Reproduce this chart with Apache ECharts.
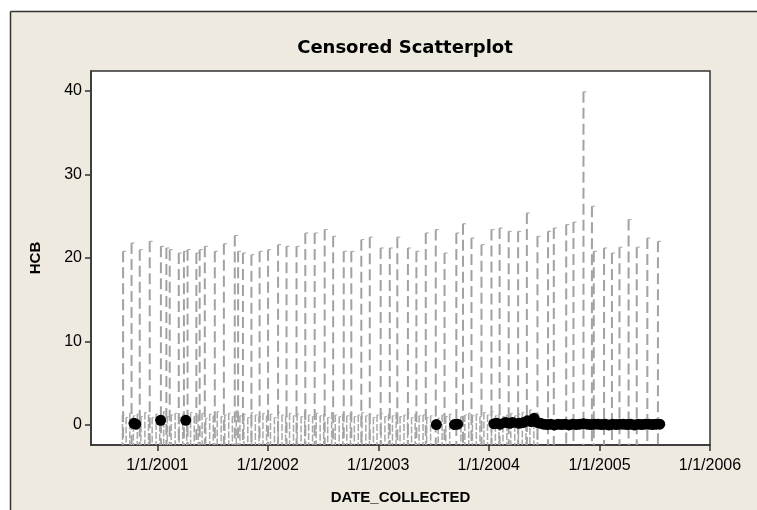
<!DOCTYPE html>
<html>
<head>
<meta charset="utf-8">
<script src="https://cdn.jsdelivr.net/npm/echarts@6/dist/echarts.min.js"></script>
<style>html,body{margin:0;padding:0;background:#fff;}#c{width:757px;height:510px;}</style>
</head>
<body>
<div id="c"></div>
<script>
// ---- data ----
const xTickDates = ['2001-01-01','2002-01-01','2003-01-01','2004-01-01','2005-01-01','2006-01-01'];
const xTickLabels = ['1/1/2001','1/1/2002','1/1/2003','1/1/2004','1/1/2005','1/1/2006'];
const yTicks = [0, 10, 20, 30, 40];

// uncensored observations (black dots)
const detectDates = ['2000-10-16','2000-10-22','2001-01-12','2001-04-05','2003-07-12','2003-09-10','2003-09-20',
  '2004-01-18','2004-01-28','2004-02-08','2004-02-25','2004-03-10','2004-03-20','2004-04-10','2004-04-25',
  '2004-05-08','2004-05-20','2004-05-30','2004-06-10','2004-06-20','2004-06-30','2004-07-12','2004-07-24',
  '2004-08-05','2004-08-17','2004-08-29','2004-09-10','2004-09-22','2004-10-04','2004-10-16','2004-10-28',
  '2004-11-09','2004-11-21','2004-12-03','2004-12-15','2004-12-27','2005-01-08','2005-01-20','2005-02-01',
  '2005-02-13','2005-02-25','2005-03-09','2005-03-21','2005-04-02','2005-04-14','2005-04-26','2005-05-08',
  '2005-05-20','2005-06-01','2005-06-13','2005-06-25','2005-07-07','2005-07-19'];
const detectValues = [0.2,0.1,0.55,0.55,0.05,0.05,0.1,
  0.15,0.2,0.1,0.3,0.2,0.3,0.2,0.3,
  0.5,0.4,0.8,0.3,0.2,0.1,0.05,0.1,
  0.0,0.1,0.05,0.1,0.0,0.1,0.05,0.1,
  0.15,0.1,0.05,0.1,0.1,0.05,0.1,0.0,
  0.1,0.05,0.1,0.1,0.05,0.1,0.0,0.1,
  0.05,0.1,0.1,0.05,0.1,0.1];

// left-censored observations with high reporting limits (long dashed lines)
const highLimitDates = ['2000-09-10','2000-10-08','2000-11-04','2000-12-07','2001-01-13','2001-01-31','2001-02-11',
  '2001-03-13','2001-03-30','2001-04-11','2001-05-10','2001-05-21','2001-06-07','2001-07-10','2001-08-09',
  '2001-09-14','2001-09-25','2001-10-11','2001-11-08','2001-12-05','2002-01-02','2002-02-04','2002-03-04',
  '2002-04-06','2002-05-05','2002-06-05','2002-07-08','2002-08-05','2002-09-09','2002-10-04','2002-11-06',
  '2002-12-04','2003-01-09','2003-02-08','2003-03-05','2003-04-09','2003-05-07','2003-06-07','2003-07-10',
  '2003-08-08','2003-09-16','2003-10-08','2003-11-05','2003-12-08','2004-01-10','2004-02-06','2004-03-07',
  '2004-04-07','2004-05-06','2004-06-10','2004-07-15','2004-08-03','2004-09-13','2004-10-07','2004-11-09',
  '2004-12-07','2004-12-13','2005-01-16','2005-02-11','2005-03-08','2005-04-07','2005-05-04','2005-06-08',
  '2005-07-13'];
const highLimitValues = [20.8,21.8,21.0,22.0,21.4,21.2,21.0,
  20.6,20.8,21.0,20.6,21.0,21.4,20.8,21.7,
  22.7,20.8,20.6,20.4,20.8,21.0,21.6,21.4,
  21.4,23.0,23.0,23.4,22.6,20.8,20.8,22.2,
  22.5,21.2,21.2,22.5,21.2,20.8,23.0,23.4,
  20.6,23.0,24.1,22.4,21.6,23.4,23.6,23.2,
  23.2,25.4,22.6,23.2,23.6,24.0,24.3,39.9,
  26.2,20.8,21.2,20.6,21.3,24.6,21.3,22.4,
  22.0];

// left-censored observations with low reporting limits (short lines near zero)
const lowLimitDates = ['2000-09-08','2000-09-20','2000-10-02','2000-10-14','2000-10-27','2000-11-08','2000-11-21',
  '2000-12-03','2000-12-15','2000-12-28','2001-01-09','2001-01-22','2001-02-03','2001-02-16','2001-03-01',
  '2001-03-14','2001-03-26','2001-04-08','2001-04-21','2001-05-03','2001-05-16','2001-05-29','2001-06-10',
  '2001-06-23','2001-07-05','2001-07-18','2001-07-31','2001-08-12','2001-08-25','2001-09-06','2001-09-19',
  '2001-10-01','2001-10-14','2001-10-27','2001-11-08','2001-11-21','2001-12-03','2001-12-16','2001-12-28',
  '2002-01-10','2002-01-23','2002-02-04','2002-02-17','2002-03-01','2002-03-14','2002-03-27','2002-04-08',
  '2002-04-21','2002-05-03','2002-05-16','2002-05-29','2002-06-10','2002-06-23','2002-07-05','2002-07-18',
  '2002-07-31','2002-08-12','2002-08-25','2002-09-06','2002-09-19','2002-10-01','2002-10-14','2002-10-27',
  '2002-11-08','2002-11-21','2002-12-03','2002-12-16','2002-12-28','2003-01-10','2003-01-23','2003-02-04',
  '2003-02-17','2003-03-01','2003-03-14','2003-03-27','2003-04-08','2003-04-21','2003-05-03','2003-05-16',
  '2003-05-29','2003-06-10','2003-06-23','2003-07-18','2003-07-31','2003-08-12','2003-08-25','2003-10-01',
  '2003-10-14','2003-10-27','2003-11-08','2003-11-21','2003-12-03','2003-12-16','2003-12-28','2004-01-10',
  '2004-01-23','2004-02-04','2004-02-17','2004-03-01','2004-03-14','2004-03-27','2004-04-08','2004-04-21',
  '2004-05-03','2004-05-16','2004-05-29','2004-06-10'];
const lowLimitValues = [1.2,0.9,1.4,1.1,1.3,1.0,1.5,
  1.2,0.9,1.3,1.1,1.6,1.0,1.2,1.4,
  0.9,1.3,1.1,1.5,1.0,1.2,1.4,0.8,
  1.3,1.1,1.6,1.0,1.2,1.4,1.0,1.7,
  1.1,1.3,0.9,1.5,1.2,1.0,1.4,1.1,
  1.3,0.9,1.5,1.2,1.0,1.4,1.1,1.3,
  1.0,1.6,1.2,1.0,1.4,1.1,1.3,0.9,
  1.5,1.2,1.0,1.3,1.1,1.4,1.0,1.2,
  1.5,1.1,1.3,0.9,1.2,1.4,1.0,1.3,
  1.1,1.5,1.0,1.2,1.4,0.9,1.3,1.1,
  1.2,0.9,1.1,0.8,1.2,1.0,1.3,1.0,
  1.2,1.4,1.1,1.3,1.0,1.5,1.2,1.6,
  1.1,1.3,1.0,1.2,1.4,1.1,1.3,1.5,
  1.2,1.8,1.4,1.2];

// ---- chart ----
const ts = s => Date.parse(s);
const X_MIN = ts('2000-05-27');
const X_MAX = ts('2006-01-01');
const Y_MIN = -2.4, Y_MAX = 42.4;
const xTickValues = xTickDates.map(ts);

function zipPairs(dates, vals) { return dates.map((d, i) => [ts(d), vals[i]]); }

function censoredRenderer(color, width, dash, stub) {
  return function (params, api) {
    const t = api.value(0), v = api.value(1);
    const top = api.coord([t, v]);
    const bot = api.coord([t, Y_MIN]);
    return {
      type: 'group',
      children: [
        { type: 'line', shape: { x1: top[0], y1: top[1], x2: bot[0], y2: bot[1] },
          style: { stroke: color, lineWidth: width, lineDash: dash } },
        { type: 'line', shape: { x1: top[0], y1: top[1], x2: top[0] + stub, y2: top[1] },
          style: { stroke: color, lineWidth: 1 } }
      ]
    };
  };
}

const chart = echarts.init(document.getElementById('c'), null, { renderer: 'canvas' });
chart.setOption({
  animation: false,
  backgroundColor: '#EEEAE0',
  textStyle: { fontFamily: 'Liberation Sans' },
  graphic: { elements: [
    { type: 'rect', shape: { x: 0, y: 0, width: 757, height: 11 }, style: { fill: '#ffffff' }, silent: true },
    { type: 'rect', shape: { x: 0, y: 0, width: 10, height: 510 }, style: { fill: '#ffffff' }, silent: true },
    { type: 'line', shape: { x1: 10.5, y1: 11.5, x2: 757, y2: 11.5 }, style: { stroke: '#333', lineWidth: 1.5 }, silent: true },
    { type: 'line', shape: { x1: 10.5, y1: 11.5, x2: 10.5, y2: 510 }, style: { stroke: '#333', lineWidth: 1.5 }, silent: true }
  ]},
  title: {
    text: 'Censored Scatterplot',
    left: 400, top: 34, textAlign: 'center',
    textStyle: { fontFamily: 'DejaVu Sans', fontWeight: 'bold', fontSize: 18, color: '#000' }
  },
  grid: {
    left: 91, top: 71, right: 47, bottom: 63,
    show: true, backgroundColor: '#ffffff', borderColor: '#333', borderWidth: 1.5
  },
  xAxis: {
    type: 'value', min: X_MIN, max: X_MAX,
    name: 'DATE_COLLECTED', nameLocation: 'middle', nameGap: 45,
    nameTextStyle: { fontFamily: 'Liberation Sans', fontWeight: 'bold', fontSize: 15, color: '#000' },
    axisLine: { show: true, onZero: false, lineStyle: { color: '#333', width: 1.5 } },
    axisTick: { show: true, length: 6, customValues: xTickValues, lineStyle: { color: '#333', width: 1.5 } },
    axisLabel: {
      customValues: xTickValues, margin: 13, fontSize: 16, color: '#000', fontFamily: 'Liberation Sans',
      formatter: v => { const i = xTickValues.indexOf(v); return i >= 0 ? xTickLabels[i] : ''; }
    },
    splitLine: { show: false }
  },
  yAxis: {
    type: 'value', min: Y_MIN, max: Y_MAX,
    name: 'HCB', nameLocation: 'middle', nameGap: 48, nameRotate: 90,
    nameTextStyle: { fontFamily: 'Liberation Sans', fontWeight: 'bold', fontSize: 15, color: '#000' },
    axisLine: { show: true, onZero: false, lineStyle: { color: '#333', width: 1.5 } },
    axisTick: { show: true, length: 6, customValues: yTicks, lineStyle: { color: '#333', width: 1.5 } },
    axisLabel: { customValues: yTicks, margin: 9, fontSize: 16, color: '#000', fontFamily: 'Liberation Sans' },
    splitLine: { show: false }
  },
  series: [
    {
      type: 'custom', name: 'low limits', clip: true, z: 2,
      renderItem: censoredRenderer('#a8a8a8', 1.5, [7, 2], 2),
      data: zipPairs(lowLimitDates, lowLimitValues)
    },
    {
      type: 'custom', name: 'high limits', clip: true, z: 3,
      renderItem: censoredRenderer('#a2a2a2', 2, [11, 5], 3),
      data: zipPairs(highLimitDates, highLimitValues)
    },
    {
      type: 'scatter', name: 'detected', z: 5,
      symbol: 'circle', symbolSize: 11,
      itemStyle: { color: '#000', opacity: 1 },
      data: zipPairs(detectDates, detectValues)
    }
  ]
});
</script>
</body>
</html>
